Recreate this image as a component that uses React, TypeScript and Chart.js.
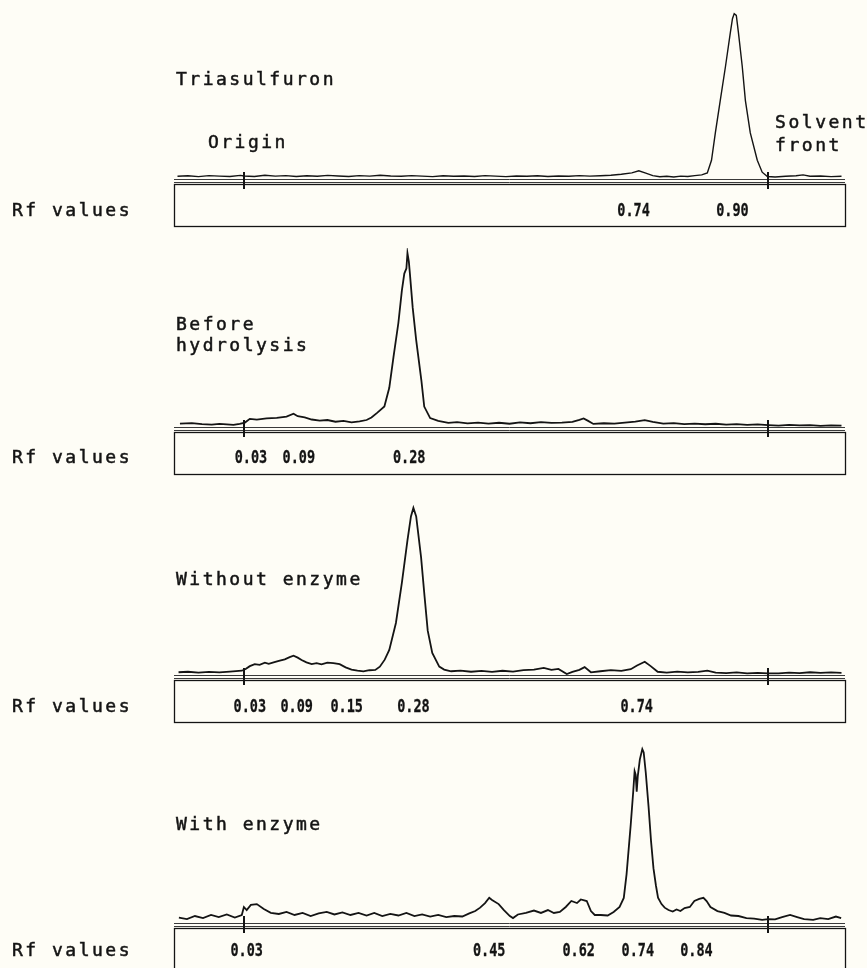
import { useEffect, useRef } from "react";
import { Chart, registerables } from "chart.js";

Chart.register(...registerables);

// Scan position along the plate (mm): origin and solvent front marks
const ORIGIN_MM = 20;
const FRONT_MM = 170;
const PLATE_MIN_MM = 0;
const PLATE_MAX_MM = 192;
const COUNTS_MAX = 105;

// Radioactivity traces: [scan position (mm), relative counts]
const triasulfuronTrace: [number, number][] = [
  [1, 1.6], [4, 1.9], [7, 1.4], [10, 2.0], [13, 1.7], [16, 1.5], [19, 2.1], [20, 1.8], [23, 1.5],
  [26, 2.2], [29, 1.7], [32, 2.0], [35, 1.5], [38, 1.9], [41, 1.6], [44, 2.1], [47, 1.8], [50, 1.5],
  [53, 2.0], [56, 1.7], [59, 2.2], [62, 1.8], [65, 1.6], [68, 2.0], [71, 1.7], [74, 1.4], [77, 1.9],
  [80, 1.6], [83, 1.8], [86, 1.5], [89, 2.0], [92, 1.7], [95, 1.4], [98, 1.8], [101, 1.6], [104, 1.9],
  [107, 1.5], [110, 1.8], [113, 1.6], [116, 2.0], [119, 1.7], [122, 1.9], [125, 2.2], [128, 2.8],
  [131, 3.6], [133, 4.8], [135, 3.4], [137, 2.0], [139, 1.3], [141, 1.6], [143, 1.2], [145, 1.7],
  [147, 1.5], [149, 2.0], [151, 2.4], [152.6, 3.5], [153.8, 11], [154.9, 27], [156.3, 46],
  [157.8, 66], [159.2, 86], [159.8, 94], [160.3, 97], [160.9, 96], [161.5, 86], [162.6, 66],
  [163.5, 46], [164.9, 27], [166.9, 11], [168.3, 4], [169.8, 1.5], [172, 1.2], [175, 1.6],
  [178, 1.9], [180, 2.4], [182, 1.6], [185, 1.8], [188, 1.4], [191, 1.6],
];

const beforeHydrolysisTrace: [number, number][] = [
  [1.7, 2.0], [5.1, 2.3], [8, 1.7], [10.8, 1.4], [13, 1.8], [15.1, 1.5], [17, 1.2], [18.8, 1.9],
  [20.3, 2.6], [21.7, 4.8], [23.7, 4.3], [26.5, 5.0], [29.4, 5.4], [32.2, 6.1], [34.2, 7.8],
  [35.4, 6.3], [37.4, 5.6], [39.4, 4.4], [41.7, 3.7], [43.9, 4.1], [46.2, 3.1], [48.5, 3.6],
  [50.8, 2.7], [53.1, 3.3], [55.1, 4.1], [56.5, 5.6], [58.2, 8.4], [60.2, 12], [61.6, 23],
  [62.8, 41], [64.2, 61], [65.2, 80], [65.9, 90], [66.5, 93], [66.8, 102], [67.2, 97], [67.5, 90],
  [68.3, 70], [69.3, 51], [70.8, 27], [71.6, 12], [73.3, 5.2], [75.6, 3.6], [78.5, 2.4], [81, 2.8],
  [84, 2.1], [87, 2.6], [90, 2.0], [93, 2.5], [96, 1.9], [99, 2.7], [102, 2.2], [105, 2.9],
  [108, 2.4], [111, 2.6], [114, 3.0], [116, 4.2], [117.2, 5.0], [118.5, 3.6], [120, 1.8], [123, 2.2],
  [126, 2.0], [129, 2.6], [132, 3.1], [134.7, 4.0], [137, 3.0], [140, 2.0], [143, 2.3], [146, 1.7],
  [149, 2.0], [152, 1.6], [155, 1.9], [158, 1.4], [161, 1.7], [164, 1.3], [167, 1.5], [170, 1.1],
  [173, 0.8], [176, 1.2], [179, 0.9], [182, 1.1], [185, 0.7], [188, 1.0], [191, 0.8],
];

const withoutEnzymeTrace: [number, number][] = [
  [1.3, 1.6], [4, 1.9], [7, 1.4], [10, 1.8], [13, 1.5], [16, 2.0], [19.4, 2.5], [20.5, 3.5],
  [21.7, 5.2], [23.1, 6.4], [24.5, 6.0], [26, 7.2], [27.1, 6.5], [28.5, 7.4], [30, 8.3], [31.7, 9.2],
  [33.1, 10.5], [34.2, 11.3], [35.4, 10.2], [36.5, 8.8], [37.9, 7.4], [39.4, 6.4], [40.8, 6.9],
  [42.2, 6.2], [43.9, 7.2], [45.6, 7.0], [47.4, 6.4], [49.1, 4.5], [50.8, 3.2], [52.5, 2.6],
  [54.2, 2.1], [55.9, 2.8], [57.6, 3.0], [58.9, 4.9], [60.3, 9], [61.6, 14.7], [63.5, 30.5],
  [65.2, 54], [66.8, 79], [67.8, 93], [68.5, 98], [69.3, 93], [70.7, 69], [71.7, 46], [72.6, 26],
  [73.9, 13], [75.9, 4.9], [77.3, 3.2], [79.3, 2.2], [82, 2.6], [85, 1.9], [88, 2.4], [91, 1.8],
  [94, 2.5], [97, 2.0], [100, 2.8], [103, 3.2], [105.8, 4.2], [108, 3.0], [110, 3.6], [112.4, 0.6],
  [114, 1.8], [116, 3.0], [117.5, 4.6], [119.3, 1.6], [122, 2.2], [125, 2.9], [128, 2.4],
  [130.7, 3.4], [132.5, 5.6], [134.7, 7.8], [136.4, 5.2], [138.4, 1.9], [141, 1.4], [144, 2.0],
  [147, 1.5], [150, 1.8], [152.6, 2.6], [155, 1.4], [158, 1.1], [161, 1.5], [164, 1.0], [167, 1.3],
  [170, 0.9], [173, 1.0], [176, 1.4], [179, 1.1], [182, 1.6], [185, 1.2], [188, 1.5], [191, 1.3],
];

const withEnzymeTrace: [number, number][] = [
  [1.4, 3.1], [3.7, 2.3], [6.0, 4.1], [8.3, 2.9], [10.6, 4.7], [12.8, 3.5], [15.1, 5.0], [17.4, 3.2],
  [19.4, 4.7], [20.0, 9.4], [20.8, 7.6], [22.0, 10.6], [23.7, 11.1], [25.7, 8.2], [27.7, 6.0],
  [30.0, 5.3], [32.2, 6.5], [34.5, 4.7], [36.8, 5.9], [39.1, 4.1], [41.4, 5.6], [43.7, 6.5],
  [45.9, 5.0], [48.2, 6.2], [50.5, 4.7], [52.8, 5.9], [55.1, 4.4], [57.3, 5.9], [59.6, 4.1],
  [61.9, 5.3], [64.2, 4.4], [66.5, 5.9], [68.8, 4.1], [71.0, 5.0], [73.3, 3.8], [75.6, 4.7],
  [77.9, 3.5], [80.2, 4.1], [82.5, 3.8], [84.5, 5.6], [86.2, 7.0], [87.6, 9.0], [89.0, 11.7],
  [90.2, 14.8], [91.0, 13.5], [92.9, 11.1], [94.4, 7.6], [96.1, 4.1], [97.0, 2.9], [98.4, 5.0],
  [100.7, 5.9], [103.0, 7.3], [105.0, 5.9], [107.0, 7.6], [108.7, 5.9], [110.4, 6.5], [112.1, 9.4],
  [113.7, 12.9], [115.3, 11.7], [116.4, 13.8], [118.1, 12.9], [119.3, 7.0], [120.4, 4.7],
  [122.1, 4.7], [124.1, 4.4], [125.8, 6.5], [127.5, 9.4], [128.7, 14.7], [129.5, 28.7], [130.7, 58],
  [131.4, 77], [131.8, 89], [132.1, 87], [132.4, 77], [132.7, 86], [133.3, 96], [134.0, 102],
  [134.4, 100], [135.0, 88], [135.8, 68], [136.5, 48], [137.2, 32], [137.9, 22], [138.5, 14.8],
  [139.5, 11.1], [140.4, 9.0], [141.5, 7.6], [142.7, 6.7], [143.8, 7.9], [144.9, 7.0], [146.1, 8.8],
  [147.6, 9.4], [148.9, 12.9], [150.3, 14.1], [151.5, 14.8], [152.4, 12.9], [153.5, 9.4],
  [155.5, 7.0], [157.5, 5.9], [159.4, 4.4], [161.5, 4.1], [163.8, 2.9], [166.0, 2.6], [168.3, 1.8],
  [170.0, 2.3], [172.0, 2.1], [174.0, 3.5], [176.3, 4.7], [178.3, 3.5], [180.3, 2.3], [182.9, 1.8],
  [184.9, 2.9], [187.2, 2.3], [189.4, 3.8], [190.9, 2.9],
];

// Rf labels of the radioactive zones and the scan position (mm) of each zone
const triasulfuronRf = ["0.74", "0.90"];
const triasulfuronRfAt = [131.5, 159.8];
const beforeHydrolysisRf = ["0.03", "0.09", "0.28"];
const beforeHydrolysisRfAt = [22.0, 35.7, 67.3];
const withoutEnzymeRf = ["0.03", "0.09", "0.15", "0.28", "0.74"];
const withoutEnzymeRfAt = [21.7, 35.1, 49.4, 68.5, 132.4];
const withEnzymeRf = ["0.03", "0.45", "0.62", "0.74", "0.84"];
const withEnzymeRfAt = [20.8, 90.2, 115.8, 132.7, 149.5];

const INK = "#141414";
const PAPER = "#fefdf6";
const TYPE_FONT = "18px 'DejaVu Sans Mono', 'Liberation Mono', monospace";
const LABEL_FONT = "bold 18px 'DejaVu Sans Mono', 'Liberation Mono', monospace";

const PANEL_W = 867;
const PANEL_H = 248;

type Panel = {
  trace: [number, number][];
  rf: string[];
  rfAt: number[];
  title: string[];
  titleY: number[];
  markers: boolean;
  penWidth: number;
  labelDrop: number;
};

const panels: Panel[] = [
  { trace: triasulfuronTrace, rf: triasulfuronRf, rfAt: triasulfuronRfAt, title: ["Triasulfuron"], titleY: [85], markers: true, penWidth: 1.4, labelDrop: 37 },
  { trace: beforeHydrolysisTrace, rf: beforeHydrolysisRf, rfAt: beforeHydrolysisRfAt, title: ["Before", "hydrolysis"], titleY: [82, 103], markers: false, penWidth: 1.8, labelDrop: 36 },
  { trace: withoutEnzymeTrace, rf: withoutEnzymeRf, rfAt: withoutEnzymeRfAt, title: ["Without enzyme"], titleY: [89], markers: false, penWidth: 1.8, labelDrop: 37 },
  { trace: withEnzymeTrace, rf: withEnzymeRf, rfAt: withEnzymeRfAt, title: ["With enzyme"], titleY: [86], markers: false, penWidth: 1.8, labelDrop: 33 },
];

function hline(ctx: CanvasRenderingContext2D, x1: number, x2: number, y: number) {
  ctx.beginPath();
  ctx.moveTo(x1, y);
  ctx.lineTo(x2, y);
  ctx.stroke();
}

// typewriter-like text: filled glyphs with a thin outline for weight
function typeText(ctx: CanvasRenderingContext2D, t: string, x: number, y: number) {
  ctx.fillText(t, x, y);
  ctx.strokeText(t, x, y);
}

// Draws the plate strip: base lines, origin/front marks, Rf box and all text
const plateStrip = {
  id: "plateStrip",
  afterDraw(chart: any, _args: any, opts: any) {
    const panel: Panel = opts.panel;
    const { ctx, chartArea, scales } = chart;
    const xs = scales.x;
    const y0 = scales.y.getPixelForValue(0);
    const left = chartArea.left;
    const right = chartArea.right;

    ctx.save();
    ctx.strokeStyle = "#3a3a3a";
    ctx.lineWidth = 1;
    hline(ctx, left, right, Math.round(y0) + 0.5);
    hline(ctx, left, right, Math.round(y0) + 3.5);
    ctx.strokeStyle = INK;
    ctx.lineWidth = 1.3;
    ctx.strokeRect(Math.round(left) + 0.5, Math.round(y0) + 5.5, Math.round(right - left), 42);

    // origin and solvent front marks
    ctx.lineWidth = 2;
    for (const mm of [ORIGIN_MM, FRONT_MM]) {
      const px = Math.round(xs.getPixelForValue(mm));
      ctx.beginPath();
      ctx.moveTo(px, y0 - 7);
      ctx.lineTo(px, y0 + 10);
      ctx.stroke();
    }

    ctx.fillStyle = INK;
    ctx.strokeStyle = INK;
    ctx.textBaseline = "alphabetic";

    // Rf labels inside the strip
    ctx.font = LABEL_FONT;
    ctx.textAlign = "center";
    ctx.lineWidth = 0.3;
    panel.rf.forEach((t, i) => {
      const px = xs.getPixelForValue(panel.rfAt[i]);
      ctx.save();
      ctx.translate(px, y0 + panel.labelDrop);
      ctx.scale(0.75, 1);
      typeText(ctx, t, 0, 0);
      ctx.restore();
    });

    // typed annotations
    ctx.font = TYPE_FONT;
    ctx.textAlign = "left";
    ctx.lineWidth = 0.5;
    (ctx as any).letterSpacing = "2.5px";
    typeText(ctx, "Rf values", 12, y0 + panel.labelDrop);
    panel.title.forEach((t, i) => typeText(ctx, t, left + 2, panel.titleY[i]));
    if (panel.markers) {
      const ox = xs.getPixelForValue(ORIGIN_MM);
      const fx = xs.getPixelForValue(FRONT_MM);
      typeText(ctx, "Origin", ox - 36, 148);
      typeText(ctx, "Solvent", fx + 7, 128);
      typeText(ctx, "front", fx + 7, 151);
    }
    ctx.restore();
  },
};

function TracePanel({ panel, top }: { panel: Panel; top: number }) {
  const ref = useRef<HTMLCanvasElement | null>(null);

  useEffect(() => {
    if (!ref.current) return;
    const chart = new Chart(ref.current, {
      type: "line",
      data: {
        datasets: [
          {
            data: panel.trace.map(([x, y]) => ({ x, y })),
            borderColor: INK,
            borderWidth: panel.penWidth,
            pointRadius: 0,
            tension: 0,
            fill: false,
          },
        ],
      },
      options: {
        responsive: false,
        animation: false,
        events: [],
        layout: { padding: { left: 174, right: 22, top: 0, bottom: 69 } },
        scales: {
          x: { type: "linear", min: PLATE_MIN_MM, max: PLATE_MAX_MM, display: false },
          y: { min: 0, max: COUNTS_MAX, display: false },
        },
        plugins: {
          legend: { display: false },
          tooltip: { enabled: false },
          plateStrip: { panel },
        } as any,
      },
      plugins: [plateStrip],
    });
    return () => chart.destroy();
  }, [panel]);

  return (
    <canvas
      ref={ref}
      width={PANEL_W}
      height={PANEL_H}
      style={{ position: "absolute", left: 0, top, display: "block" }}
    />
  );
}

export default function App() {
  return (
    <div
      style={{
        position: "absolute",
        left: 0,
        top: 0,
        width: 867,
        height: 968,
        overflow: "hidden",
        background: PAPER,
      }}
    >
      {panels.map((p, i) => (
        <TracePanel key={i} panel={p} top={i * PANEL_H} />
      ))}
    </div>
  );
}
